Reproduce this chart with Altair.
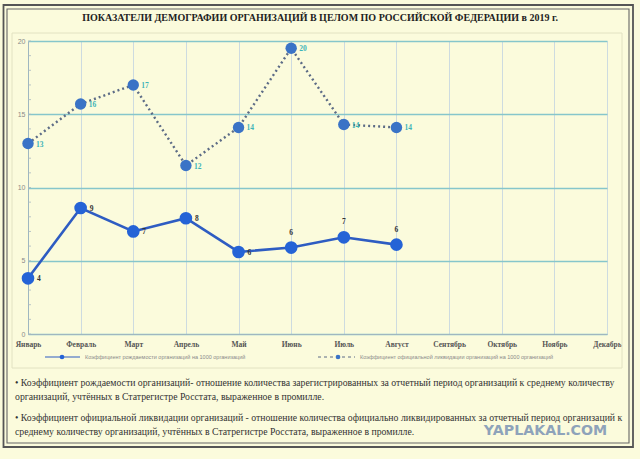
import altair as alt
import pandas as pd

months = ["Январь", "Февраль", "Март", "Апрель", "Май", "Июнь",
          "Июль", "Август", "Сентябрь", "Октябрь", "Ноябрь", "Декабрь"]
birth_vals = [3.8, 8.6, 7.0, 7.9, 5.6, 5.9, 6.6, 6.1]
birth_labels = ["4", "9", "7", "8", "6", "6", "7", "6"]
liq_vals = [13.0, 15.7, 17.0, 11.5, 14.1, 19.5, 14.3, 14.1]
liq_labels = ["13", "16", "17", "12", "14", "20", "14", "14"]
y_major = [0, 5, 10, 15, 20]
y_minor = list(range(0, 21))

title_text = "ПОКАЗАТЕЛИ ДЕМОГРАФИИ ОРГАНИЗАЦИЙ В ЦЕЛОМ ПО РОССИЙСКОЙ ФЕДЕРАЦИИ в 2019 г."
legend_birth = "Коэффициент рождаемости организаций на 1000 организаций"
legend_liq = "Коэффициент официальной ликвидации организаций на 1000 организаций"
body_lines = [
    "• Коэффициент рождаемости организаций- отношение количества зарегистрированных за отчетный период организаций к среднему количеству",
    "организаций,  учтённых  в Статрегистре Росстата, выраженное в промилле.",
    "• Коэффициент официальной ликвидации организаций - отношение количества официально ликвидированных за отчетный период организаций к",
    "среднему количеству организаций,  учтённых  в Статрегистре Росстата,  выраженное в промилле.",
]
watermark = "YAPLAKAL.COM"

n = len(birth_vals)
df_b = pd.DataFrame({"month": months[:n], "value": birth_vals, "label": birth_labels, "idx": list(range(n))})
df_l = pd.DataFrame({"month": months[:n], "value": liq_vals, "label": liq_labels, "idx": list(range(n))})

W, H = 579, 293
SERIF = "Liberation Serif"
SANS = "Liberation Sans"

xscale = alt.Scale(domain=months, type="point", padding=0)
yscale = alt.Scale(domain=[0, 20], nice=False)

x_enc = alt.X("month:N", scale=xscale, sort=months, title=None,
              axis=alt.Axis(labelFont=SERIF, labelFontWeight="bold", labelFontSize=7.5,
                            labelColor="#555555", labelAngle=0, labelPadding=6,
                            grid=True, gridColor="#cddbe0", gridWidth=1,
                            domain=True, domainColor="#9fb7c0", ticks=False))
y_enc = alt.Y("value:Q", scale=yscale, title=None,
              axis=alt.Axis(values=y_major, labelFont=SANS, labelFontSize=7, labelColor="#8a8a8a",
                            labelPadding=3, grid=True, gridColor="#86c6cb", gridWidth=1.3,
                            domain=True, domainColor="#9fb7c0", ticks=False))
xs = alt.X("month:N", scale=xscale, sort=months)
ys = alt.Y("value:Q", scale=yscale)


def annot(text, x, y, **kw):
    return alt.Chart(pd.DataFrame({"t": [text]})).mark_text(**kw).encode(
        text="t:N", x=alt.value(x), y=alt.value(y))


def box(x, x2, y, y2, **kw):
    return alt.Chart(pd.DataFrame({"a": [0]})).mark_rect(**kw).encode(
        x=alt.value(x), x2=alt.value(x2), y=alt.value(y), y2=alt.value(y2))


frame_outer = box(-24.5, 605, -36, 406, fill=None, stroke="#555555", strokeWidth=1.8)
frame_inner = box(-21, 601, -32, 402, fill=None, stroke="#666666", strokeWidth=1.1)
panel = box(-16, 594, -8, 327, fill=None, stroke="#e2e2c2", strokeWidth=1)

minor = alt.Chart(pd.DataFrame({"value": y_minor})).mark_rule(
    color="#a8b8c0", strokeWidth=0.8).encode(y=ys, x=alt.value(0), x2=alt.value(3))

liq_line = alt.Chart(df_l).mark_line(color="#5c6b86", strokeWidth=2.4, strokeDash=[2, 3]).encode(
    x=x_enc, y=y_enc)
liq_pts = alt.Chart(df_l).mark_circle(color="#3a73c6", opacity=1, size=130).encode(x=xs, y=ys)
liq_txt = alt.Chart(df_l).mark_text(font=SERIF, fontSize=7.5, fontWeight="bold", color="#3db4b8",
                                    align="left", dx=8, dy=1).encode(x=xs, y=ys, text="label:N")

b_line = alt.Chart(df_b).mark_line(color="#2e5cc2", strokeWidth=2.6).encode(x=xs, y=ys)
b_pts = alt.Chart(df_b).mark_circle(color="#2563d6", opacity=1, size=160).encode(x=xs, y=ys)
b_txt_right = alt.Chart(df_b).transform_filter("datum.idx < 5").mark_text(
    font=SERIF, fontSize=7.5, fontWeight="bold", color="#333333", align="left", dx=9, dy=1).encode(
    x=xs, y=ys, text="label:N")
b_txt_top = alt.Chart(df_b).transform_filter("datum.idx >= 5").mark_text(
    font=SERIF, fontSize=7.5, fontWeight="bold", color="#333333", align="center", dy=-15).encode(
    x=xs, y=ys, text="label:N")

one = pd.DataFrame({"a": [0]})
leg_b_rule = alt.Chart(one).mark_rule(color="#2e5cc2", strokeWidth=1.2).encode(
    x=alt.value(17), x2=alt.value(52), y=alt.value(316))
leg_b_pt = alt.Chart(one).mark_circle(color="#2563d6", opacity=1, size=22).encode(
    x=alt.value(34), y=alt.value(316))
leg_l_rule = alt.Chart(one).mark_rule(color="#5c6b86", strokeWidth=1, strokeDash=[3, 3]).encode(
    x=alt.value(290), x2=alt.value(327), y=alt.value(316))
leg_l_pt = alt.Chart(one).mark_circle(color="#3a73c6", opacity=1, size=22).encode(
    x=alt.value(310), y=alt.value(316))
leg_b_txt = annot(legend_birth, 57, 316, font=SANS, fontSize=5.5, color="#8a8a8a", align="left", baseline="middle")
leg_l_txt = annot(legend_liq, 332, 316, font=SANS, fontSize=5.5, color="#8a8a8a", align="left", baseline="middle")

title = annot(title_text, 292, -23, font=SERIF, fontSize=10, fontWeight="bold", color="#222222",
              align="center", baseline="middle")
body = [annot(t, -13, yy, font=SERIF, fontSize=9.75, color="#333333", align="left", baseline="middle")
        for t, yy in zip(body_lines, [342, 356, 377, 391])]
wm = annot(watermark, 517.5, 390, font="DejaVu Sans", fontSize=14.2, fontWeight="bold", color="#8ea3ba",
           align="center", baseline="middle")

chart = alt.layer(
    liq_line, frame_outer, frame_inner, panel, minor,
    liq_pts, liq_txt, b_line, b_pts, b_txt_right, b_txt_top,
    leg_b_rule, leg_b_pt, leg_l_rule, leg_l_pt, leg_b_txt, leg_l_txt,
    title, *body, wm
).properties(
    width=W, height=H, autosize="none",
    padding={"left": 28, "top": 41, "right": 33, "bottom": 125},
    background="#fbfbdc"
).configure_view(stroke=None)

chart.save("out.html", embed_options={"renderer": "svg", "actions": False})
